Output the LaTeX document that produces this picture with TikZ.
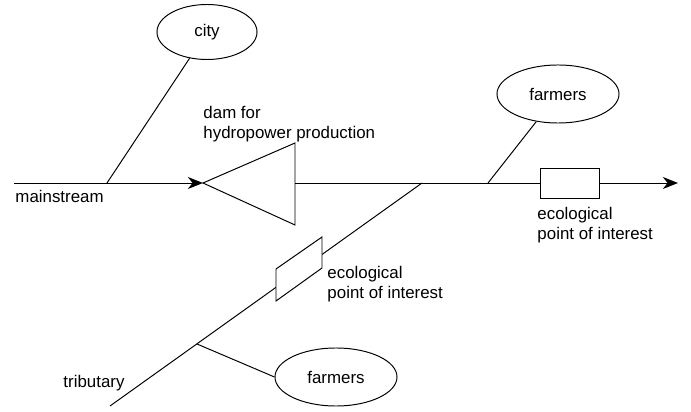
\documentclass[tikz,border=0pt]{standalone}
\usepackage{fontspec}
\setmainfont{Liberation Sans}
\usetikzlibrary{shapes.geometric, arrows.meta}

\tikzset{
  actor/.style={draw, ellipse, inner sep=0pt},
  flow/.style={-{Stealth[length=3.8mm, width=3mm, inset=1.2mm]}},
  poi/.style={draw, fill=white, minimum width=1.475cm, minimum height=0.75cm, inner sep=0pt},
  lbl/.style={inner sep=0pt, align=left}
}

\begin{document}
\begin{tikzpicture}[x=0.025cm, y=-0.025cm, line width=0.7pt, font=\fontsize{12}{14.2}\selectfont]
  \useasboundingbox (0,0) rectangle (691,412);
  \coordinate (src) at (14,183);
  \coordinate (damtip) at (203,183);
  \coordinate (damtop) at (295,143);
  \coordinate (dambot) at (295,225);
  \coordinate (damout) at (295,183);
  \coordinate (mouth) at (678,183);
  \coordinate (confl) at (422,183);
  \coordinate (tribsrc) at (110,406);
  \coordinate (citytap) at (107,183);
  \coordinate (farmtap) at (488,183);
  \coordinate (tribtap) at (197,344);

  % rivers
  \draw[flow] (src) -- (damtip);
  \draw[flow] (damout) -- (mouth);
  \draw (tribsrc) -- (confl);

  % dam
  \draw (damtip) -- (damtop) -- (dambot) -- cycle;
  \node[lbl, anchor=north west] (damlbl) at (203,106) {dam for\\hydropower production};

  % users
  \node[actor, minimum width=2.5cm, minimum height=1.375cm] (city) at (207,32) {city};
  \node[actor, minimum width=3.05cm, minimum height=1.45cm] (farmers) at (558,94) {farmers};
  \node[actor, minimum width=3.05cm, minimum height=1.45cm] (farmerstrib) at (336,377) {farmers};
  \draw (citytap) -- (city);
  \draw (farmtap) -- (farmers);
  \draw (tribtap) -- (farmerstrib.west);

  % ecological points
  \node[poi] (poimain) at (570,183) {};
  \node[lbl, anchor=north west] (poimainlbl) at (537,207) {ecological\\point of interest};
  \draw[fill=white] (276,269) -- (322,237) -- (322,268) -- (276,301) -- cycle;
  \node[lbl, anchor=north west] (poitriblbl) at (327,266) {ecological\\point of interest};

  \node[lbl, anchor=base west] (mainlbl) at (15,203) {mainstream};
  \node[lbl, anchor=base west] (triblbl) at (63,387) {tributary};
\end{tikzpicture}
\end{document}
